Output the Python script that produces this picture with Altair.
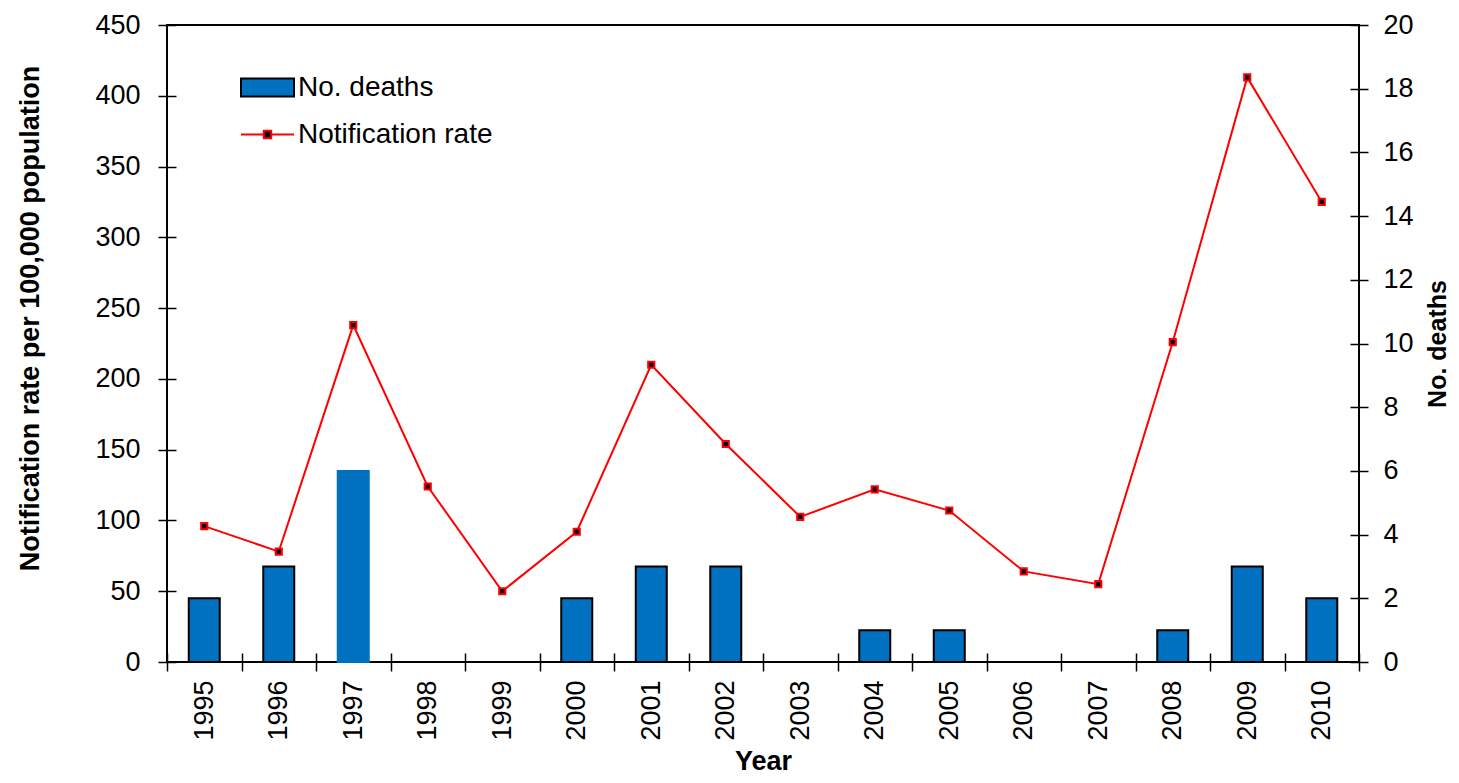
import altair as alt
import pandas as pd

years = [str(y) for y in range(1995, 2011)]
deaths = [2, 3, 6, 0, 0, 2, 3, 3, 0, 1, 1, 0, 0, 1, 3, 2]
rate = [96, 78, 238, 124, 50, 92, 210, 154, 102.5, 122, 107, 64, 55, 226, 413, 325]

df = pd.DataFrame({"year": years, "deaths": deaths, "rate": rate})

FONT = "Liberation Sans, Arial, sans-serif"

common_axis = dict(
    grid=False, domain=False, offset=-9, tickSize=18, tickColor="black", tickWidth=1.5,
    labelFont=FONT, titleFont=FONT, labelColor="black", titleColor="black",
    labelFontSize=27, titleFontWeight="bold",
)

base = alt.Chart(df)

x_enc = alt.X(
    "year:N",
    title="Year",
    scale=alt.Scale(paddingInner=0, paddingOuter=0),
    axis=alt.Axis(
        labelAngle=270, tickBand="extent", labelPadding=9, titlePadding=8,
        titleFontSize=27, **common_axis,
    ),
)

bars = base.transform_filter("datum.deaths > 0").transform_calculate(
    series="'No. deaths'"
).mark_bar(size=31, strokeWidth=2).encode(
    x=x_enc,
    y=alt.Y(
        "deaths:Q",
        title="No. deaths",
        scale=alt.Scale(domain=[0, 20], nice=False),
        axis=alt.Axis(
            orient="right", values=list(range(0, 21, 2)), labelPadding=15,
            titleFontSize=25, titleAngle=270, titleBaseline="top", titlePadding=12,
            **common_axis,
        ),
    ),
    fill=alt.Fill(
        "series:N",
        scale=alt.Scale(domain=["No. deaths"], range=["#0070C0"]),
        legend=alt.Legend(
            title=None, orient="none", legendX=73, legendY=35,
            symbolType="M-1,-0.34H1V0.34H-1Z", symbolSize=2809,
            symbolStrokeColor="black", symbolStrokeWidth=2, symbolOpacity=1,
            labelFontSize=28, labelFont=FONT, labelColor="black", labelOffset=3,
            labelLimit=0,
        ),
    ),
    stroke=alt.condition("datum.year == '1997'", alt.value("#0070C0"), alt.value("black")),
)

line = base.transform_calculate(series="'Notification rate'").mark_line(
    color="red", strokeWidth=2,
    point=alt.OverlayMarkDef(shape="square", filled=True, fill="black", stroke="red", strokeWidth=2, size=38),
).encode(
    x=x_enc,
    y=alt.Y(
        "rate:Q",
        title="Notification rate per 100,000 population",
        scale=alt.Scale(domain=[0, 450], nice=False),
        axis=alt.Axis(
            orient="left", values=list(range(0, 451, 50)), labelPadding=18,
            titleFontSize=27, titlePadding=50, titleY=293, **common_axis,
        ),
    ),
    stroke=alt.Stroke(
        "series:N",
        scale=alt.Scale(domain=["Notification rate"], range=["red"]),
        legend=alt.Legend(
            title=None, orient="none", legendX=73, legendY=82,
            symbolType="M-1,0H-0.14M0.14,0H1M-0.14,-0.14H0.14V0.14H-0.14Z", symbolSize=2809,
            symbolFillColor="black", symbolStrokeWidth=2, symbolOpacity=1,
            labelFontSize=28, labelFont=FONT, labelColor="black", labelOffset=3,
            labelLimit=0,
        ),
    ),
)

chart = alt.layer(bars, line).resolve_scale(
    y="independent", fill="independent", stroke="independent"
).properties(
    width=1192, height=637,
    background="white",
    autosize=alt.AutoSizeParams(type="none"),
    padding={"left": 159, "top": 17, "right": 92, "bottom": 113},
).configure_view(
    stroke="black", strokeWidth=2
)

chart.save("out.html", embed_options={"renderer": "svg", "actions": False})
